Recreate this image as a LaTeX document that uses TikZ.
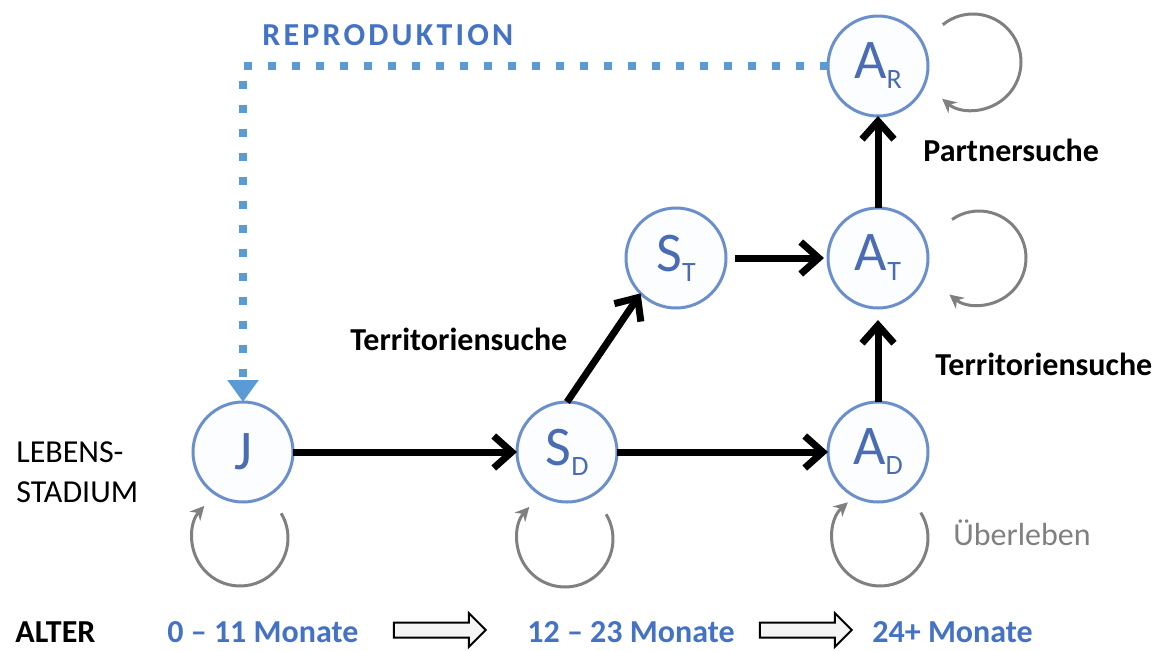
\documentclass[tikz,border=0pt]{standalone}
\usepackage{fontspec}
\setmainfont{Carlito}
\usetikzlibrary{positioning}
\usetikzlibrary{calc}
\usetikzlibrary{arrows.meta}
\usetikzlibrary{shapes.arrows}

\definecolor{stageblue}{RGB}{106,143,203}
\definecolor{stagetext}{RGB}{74,108,180}
\definecolor{labelblue}{RGB}{68,114,196}
\definecolor{reproblue}{RGB}{91,155,213}
\definecolor{loopgray}{RGB}{128,128,128}

\newcommand{\stagename}[2]{#1\raisebox{-5pt}{\fontsize{14}{14}\selectfont #2}}

\begin{document}
\begin{tikzpicture}[x=0.5pt, y=-0.5pt,
    stage/.style={draw=stageblue, line width=1.5pt, circle, fill=stageblue!2, minimum size=50pt, inner sep=0pt, outer sep=0pt, text=stagetext, font=\fontsize{28}{30}\selectfont},
    flow/.style={line width=3.5pt, -{Straight Barb[length=9pt,width=16pt]}},
    selfloop/.style={draw=loopgray, line width=1.5pt, -{Stealth[length=7pt,width=7pt]}},
    repro/.style={draw=reproblue, line width=4pt, dash pattern=on 4pt off 8pt, -{Triangle[length=11pt,width=15pt]}},
    lbl/.style={anchor=base west, inner sep=0pt, font=\fontsize{16}{20}\selectfont},
    boldlbl/.style={lbl, font=\fontsize{16}{20}\selectfont\bfseries},
    age/.style={boldlbl, text=labelblue},
    agestep/.style={single arrow, draw, line width=1pt, fill=gray!8, minimum height=46pt, single arrow head extend=4.75pt, inner sep=3.25pt}]
    \useasboundingbox (0,0) rectangle (1164,650);

    \node[stage] (J) at (243,452) {J};
    \node[stage] (SD) [right=112pt of J] {\stagename{S}{D}};
    \node[stage] (AD) [right=105.5pt of SD] {\stagename{A}{D}};
    \node[stage] (AT) [above=47pt of AD] {\stagename{A}{T}};
    \node[stage] (AR) [above=46pt of AT] {\stagename{A}{R}};
    \node[stage] (ST) [left=51pt of AT] {\stagename{S}{T}};

    \node[boldlbl, text=labelblue] (repro) at (262,45) {\addfontfeature{LetterSpace=10}REPRODUKTION};
    \node[boldlbl] (searchS) at (350,350) {Territoriensuche};
    \node[boldlbl] (searchA) at (935,375) {Territoriensuche};
    \node[boldlbl] (partner) at (923,161) {Partnersuche};
    \node[lbl, text=loopgray] (survive) at (953,545) {Überleben};
    \node[lbl, anchor=north west, align=left] (stagelbl) at (16,441) {LEBENS-\\STADIUM};

    \node[boldlbl] (agelbl) at (15,642) {ALTER};
    \node[age] (age0) at (167,642) {0 – 11 Monate};
    \node[age] (age1) at (527,642) {12 – 23 Monate};
    \node[age] (age2) at (872,642) {24+ Monate};
    \node[agestep] (step0) at (436,630) {};
    \node[agestep] (step1) at (802,630) {};

    \draw[flow] (J) -- (SD);
    \draw[flow] (SD) -- (AD);
    \draw[flow] (SD.north) -- (ST.225);
    \draw[flow, shorten <=4.5pt, shorten >=2pt] (ST) -- (AT);
    \draw[flow, shorten >=6pt] (AD) -- (AT);
    \draw[flow] (AT) -- (AR);

    \draw[repro] (AR.west) -| (J.north);

    \draw[selfloop] ($(J)+(-1.5pt,-43pt)+(31:24pt)$) arc[start angle=31, end angle=-222, radius=24pt];
    \draw[selfloop] ($(SD)+(-1pt,-43.5pt)+(31:24pt)$) arc[start angle=31, end angle=-222, radius=24pt];
    \draw[selfloop] ($(AD)+(1pt,-43pt)+(32:24pt)$) arc[start angle=32, end angle=-228, radius=24pt];
    \draw[selfloop] ($(AT)+(50.5pt,0pt)+(125:23.5pt)$) arc[start angle=125, end angle=-129, radius=23.5pt];
    \draw[selfloop] ($(AR)+(47.5pt,2pt)+(129:24pt)$) arc[start angle=129, end angle=-130, radius=24pt];
\end{tikzpicture}
\end{document}
